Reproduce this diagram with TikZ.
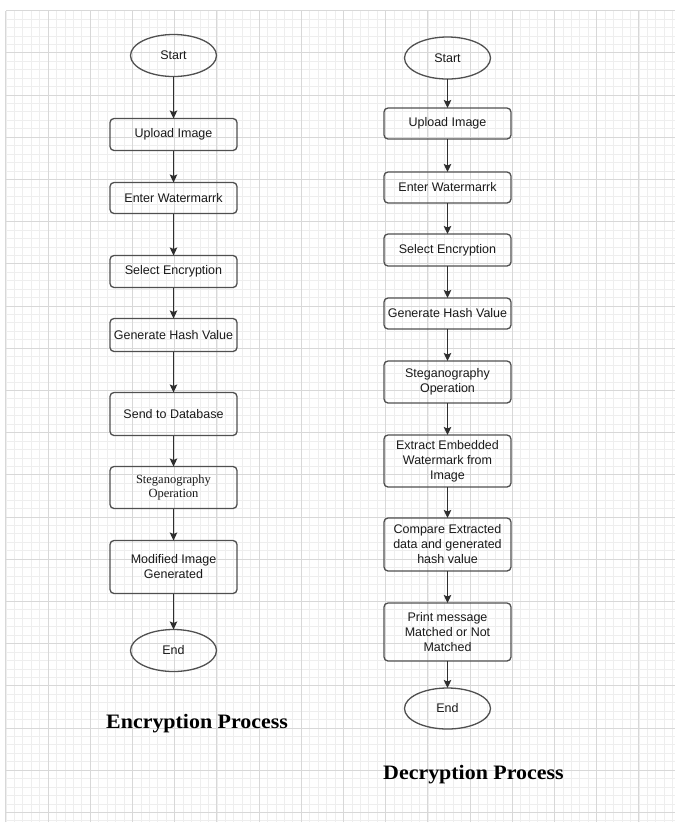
\documentclass[tikz,border=0pt]{standalone}
\usepackage{fontspec}
\setmainfont{Liberation Sans}
\newfontfamily\serifnode{Liberation Serif}
\newfontfamily\titleserif[FakeStretch=1.07]{Liberation Serif}
\usetikzlibrary{arrows.meta,positioning,shapes.geometric}
\definecolor{gridminor}{HTML}{EEEEEE}
\definecolor{gridmajor}{HTML}{D8D8D8}
\definecolor{boxline}{HTML}{505050}
\definecolor{arrowline}{HTML}{2E2E2E}
\begin{document}
\begin{tikzpicture}[x=1pt, y=1pt, node distance=32pt, every node/.style={font=\fontsize{12.5}{15}\selectfont, text=black!90}, box/.style={draw=boxline, line width=1.3pt, rounded corners=4pt, align=center, minimum width=127pt, minimum height=32pt, inner sep=2pt, outer sep=0pt}, term/.style={ellipse, draw=boxline, line width=1.3pt, minimum width=86pt, minimum height=42pt, inner sep=0pt, outer sep=0pt}, title/.style={anchor=base west, inner sep=0pt, font=\titleserif\bfseries\fontsize{20.5}{24}\selectfont, text=black}, flow/.style={->, draw=arrowline, line width=1.4pt}, >={Stealth[length=8pt,width=7.5pt,inset=1.5pt]}]
\useasboundingbox (0,0) rectangle (675,-823);
% background grid
\begin{scope}[shift={(5.8,-10.5)}]
\draw[gridminor, line width=0.6pt] (0,0) grid[step=8.44pt] (669.2,-811.5);
\draw[gridmajor, line width=0.8pt] (0,0) grid[step=42.2pt] (669.2,-811.5);
\end{scope}
% encryption flow
\node[term] (encstart) at (173.5,-55.5) {Start};
\node[box, below=42pt of encstart] (encupload) {Upload Image};
\node[box, below=of encupload, minimum height=31pt] (encmark) {Enter Watermarrk};
\node[box, below=42pt of encmark] (encselect) {Select Encryption};
\node[box, below=31pt of encselect, minimum height=33pt] (enchash) {Generate Hash Value};
\node[box, below=41pt of enchash, minimum height=43pt] (encsend) {Send to Database};
\node[box, below=31pt of encsend, minimum height=42pt, font=\serifnode\fontsize{12.5}{14}\selectfont] (encsteg) {Steganography\\Operation};
\node[box, below=of encsteg, minimum height=53pt] (encmod) {Modified Image\\Generated};
\node[term, below=36pt of encmod] (encend) {End};
\node[title] (enctitle) at (106,-728) {Encryption Process};
\draw[flow] (encstart) -- (encupload);
\draw[flow] (encupload) -- (encmark);
\draw[flow] (encmark) -- (encselect);
\draw[flow] (encselect) -- (enchash);
\draw[flow] (enchash) -- (encsend);
\draw[flow] (encsend) -- (encsteg);
\draw[flow] (encsteg) -- (encmod);
\draw[flow] (encmod) -- (encend);
% decryption flow
\node[term] (decstart) at (447.5,-58) {Start};
\node[box, below=29pt of decstart, minimum height=31pt] (decupload) {Upload Image};
\node[box, below=33pt of decupload, minimum height=31pt] (decmark) {Enter Watermarrk};
\node[box, below=31pt of decmark] (decselect) {Select Encryption};
\node[box, below=of decselect, minimum height=31pt] (dechash) {Generate Hash Value};
\node[box, below=of dechash, minimum height=42pt] (decsteg) {Steganography\\Operation};
\node[box, below=of decsteg, minimum height=52pt] (decextract) {Extract Embedded\\Watermark from\\Image};
\node[box, below=31pt of decextract, minimum height=53pt] (deccompare) {Compare Extracted\\data and generated\\hash value};
\node[box, below=of deccompare, minimum height=58pt] (decprint) {Print message\\Matched or Not\\Matched};
\node[term, below=27pt of decprint, minimum height=41pt] (decend) {End};
\node[title] (dectitle) at (383,-779) {Decryption Process};
\draw[flow] (decstart) -- (decupload);
\draw[flow] (decupload) -- (decmark);
\draw[flow] (decmark) -- (decselect);
\draw[flow] (decselect) -- (dechash);
\draw[flow] (dechash) -- (decsteg);
\draw[flow] (decsteg) -- (decextract);
\draw[flow] (decextract) -- (deccompare);
\draw[flow] (deccompare) -- (decprint);
\draw[flow] (decprint) -- (decend);
\end{tikzpicture}
\end{document}
